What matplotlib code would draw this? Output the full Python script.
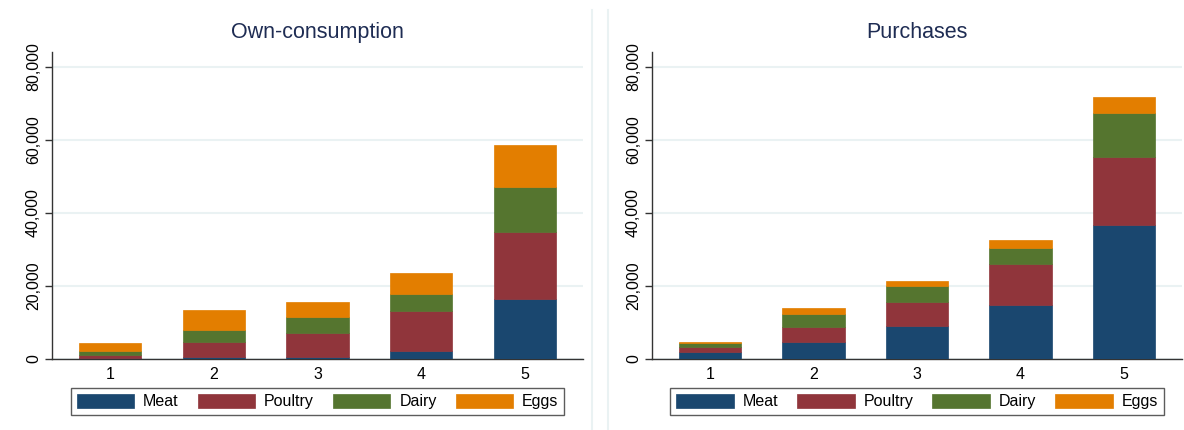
import numpy as np
import matplotlib
matplotlib.use("Agg")
import matplotlib.pyplot as plt
from matplotlib.lines import Line2D

plt.rcParams['font.family'] = ['Liberation Sans', 'DejaVu Sans']

# quintile groups and food categories
groups = ["1", "2", "3", "4", "5"]
items = ["Meat", "Poultry", "Dairy", "Eggs"]
colors = ["#1a476f", "#90353b", "#55752f", "#e37e00"]

# own-consumption values per group
own_meat = [200, 450, 550, 2280, 16500]
own_poultry = [1000, 4100, 6550, 11000, 18400]
own_dairy = [1100, 3370, 4300, 4650, 12200]
own_eggs = [2100, 5560, 4200, 5650, 11500]

# purchases per group
pur_meat = [1820, 4560, 9020, 14900, 36700]
pur_poultry = [1370, 4280, 6580, 11100, 18600]
pur_dairy = [1180, 3360, 4300, 4500, 12000]
pur_eggs = [370, 1800, 1400, 2200, 4400]

yticks = [0, 20000, 40000, 60000, 80000]

panels = [
    ("Own-consumption", [own_meat, own_poultry, own_dairy, own_eggs]),
    ("Purchases", [pur_meat, pur_poultry, pur_dairy, pur_eggs]),
]

fig = plt.figure(figsize=(11.84, 4.30), dpi=100)
fig.patch.set_facecolor("white")

# faint borders of the two graph regions
for xf in (592 / 1184, 608 / 1184):
    fig.add_artist(Line2D([xf, xf], [0, 1 - 10 / 430], transform=fig.transFigure,
                          color="#eaf2f3", lw=1.5))

positions = [[52 / 1184, 0.1651, 0.4485, 0.714],
             [652 / 1184, 0.1651, 0.4476, 0.714]]

x = np.arange(1, len(groups) + 1)
for (title, series), pos in zip(panels, positions):
    ax = fig.add_axes(pos)
    bottom = np.zeros(len(groups))
    handles = []
    for vals, name, col in zip(series, items, colors):
        b = ax.bar(x, vals, width=0.6, bottom=bottom, color=col,
                   edgecolor=col, linewidth=0.5, label=name, zorder=3)
        handles.append(b)
        bottom += np.array(vals)

    ax.set_xlim(0.44, 5.56)
    ax.set_ylim(0, 84100)
    ax.set_xticks(x)
    ax.set_xticklabels(groups)
    ax.set_yticks(yticks)
    ax.set_yticklabels([f"{v:,}" for v in yticks], rotation=90, va="center")
    ax.tick_params(axis="x", length=0, labelsize=11.5, pad=6)
    ax.tick_params(axis="y", length=5, width=1, color="#333333", labelsize=11.5, pad=3)
    ax.grid(axis="y", color="#eaf2f3", lw=1.5, zorder=0)
    for s in ("top", "right"):
        ax.spines[s].set_visible(False)
    ax.spines["left"].set_color("#333333")
    ax.spines["bottom"].set_color("#333333")
    ax.spines["left"].set_linewidth(1)
    ax.spines["bottom"].set_linewidth(1)
    ax.set_title(title, fontsize=15.5, color="#1e2c53", pad=10)

    leg = ax.legend(handles=handles, loc="upper center", bbox_to_anchor=(0.5, -0.095),
                    ncol=4, frameon=True, fancybox=False, edgecolor="#333333",
                    fontsize=11.5, handlelength=3.6, handleheight=1.0,
                    handletextpad=0.55, columnspacing=1.2, borderpad=0.35,
                    borderaxespad=0)
    leg.get_frame().set_linewidth(1)

fig.savefig("out.png", dpi=100)
